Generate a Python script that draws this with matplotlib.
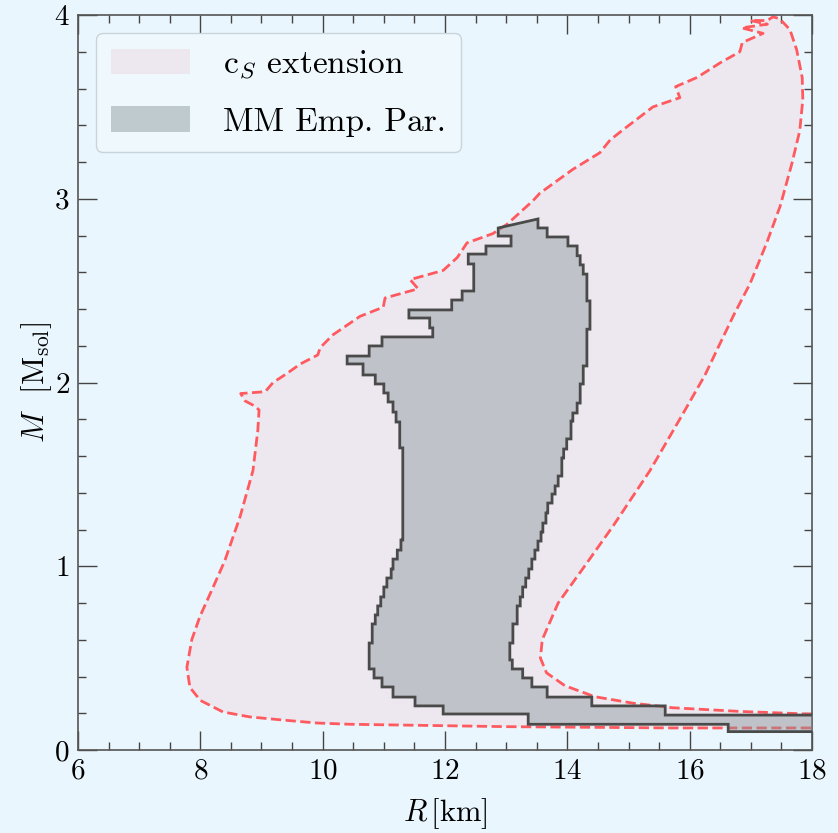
import matplotlib
matplotlib.use("Agg")
import matplotlib.pyplot as plt
from matplotlib.patches import Patch, Polygon
from matplotlib.ticker import MultipleLocator

# contorno de la región "c_S extension" (R en km, M en M_sol)
cs_R = [18.0, 16.82, 15.72, 15.07, 14.45, 13.96, 13.66, 13.56, 13.59, 13.72, 13.85,
        14.26, 14.75, 15.35, 15.89, 16.25, 16.45, 16.71, 16.99, 17.26, 17.48, 17.67,
        17.80, 17.85, 17.84, 17.75, 17.64, 17.47, 17.36, 17.27, 16.99, 17.27, 16.85,
        17.20, 16.86, 16.82, 16.50, 16.12, 15.77, 15.84, 15.40, 14.89, 14.70, 14.53,
        14.09, 13.55, 13.44, 13.01, 12.78, 12.36, 12.20, 11.97, 11.43, 11.56, 11.02,
        10.99, 10.61, 10.17, 9.96, 9.92, 9.63, 9.42, 9.19, 9.06, 8.66, 8.73, 8.90,
        8.96, 8.94, 8.86, 8.65, 8.40, 8.21, 7.99, 7.86, 7.78, 7.83, 8.00, 8.37, 8.81,
        9.35, 9.90, 10.45, 13.01, 15.73, 18.0]
cs_M = [0.195, 0.21, 0.23, 0.255, 0.29, 0.35, 0.42, 0.50, 0.60, 0.70, 0.80,
        0.99, 1.22, 1.52, 1.83, 2.04, 2.18, 2.36, 2.54, 2.76, 2.96, 3.19,
        3.37, 3.54, 3.66, 3.81, 3.92, 3.98, 3.99, 3.97, 3.97, 3.95, 3.93,
        3.90, 3.85, 3.80, 3.74, 3.66, 3.61, 3.55, 3.50, 3.37, 3.32, 3.25,
        3.16, 3.03, 2.99, 2.86, 2.81, 2.76, 2.68, 2.61, 2.56, 2.51, 2.46,
        2.41, 2.36, 2.26, 2.19, 2.15, 2.10, 2.05, 2.00, 1.95, 1.94, 1.90, 1.87,
        1.85, 1.74, 1.52, 1.27, 1.03, 0.887, 0.724, 0.60, 0.45, 0.34, 0.27, 0.207, 0.18,
        0.163, 0.147, 0.14, 0.127, 0.12, 0.12]

# región "MM Emp. Par.": borde izquierdo y derecho escalonados
izq_M = [0.10, 0.14, 0.196, 0.24, 0.288, 0.343, 0.392, 0.441, 0.582, 0.686, 0.735,
         0.784, 0.833, 0.887, 0.936, 0.985, 1.039, 1.088, 1.143, 1.644, 1.785, 1.839,
         1.894, 1.943, 1.992, 2.041, 2.101, 2.144, 2.199, 2.248, 2.297, 2.351, 2.395,
         2.449, 2.498, 2.645, 2.699, 2.743, 2.797, 2.841]
izq_R = [16.63, 13.36, 11.97, 11.51, 11.15, 10.97, 10.84, 10.76, 10.81, 10.86, 10.90,
         10.95, 11.00, 11.05, 11.12, 11.15, 11.22, 11.28, 11.31, 11.26, 11.20, 11.15,
         11.07, 11.00, 10.86, 10.66, 10.40, 10.76, 10.97, 11.80, 11.75, 11.41, 12.11,
         12.28, 12.47, 12.38, 12.67, 13.08, 12.87]
der_M = [0.10, 0.19, 0.24, 0.288, 0.343, 0.392, 0.441, 0.49, 0.582, 0.686, 0.784,
         0.833, 0.887, 0.936, 0.985, 1.039, 1.088, 1.137, 1.186, 1.235, 1.29, 1.344,
         1.393, 1.437, 1.491, 1.589, 1.638, 1.693, 1.79, 1.834, 1.888, 1.992, 2.09,
         2.29, 2.444, 2.59, 2.64, 2.69, 2.743, 2.792, 2.841, 2.89]
der_R = [18.3, 15.60, 14.40, 13.67, 13.42, 13.27, 13.10, 13.06, 13.11, 13.18, 13.23,
         13.27, 13.32, 13.37, 13.42, 13.47, 13.52, 13.57, 13.60, 13.65, 13.68, 13.75,
         13.80, 13.85, 13.91, 13.94, 13.99, 14.06, 14.09, 14.16, 14.21, 14.26, 14.32,
         14.37, 14.32, 14.26, 14.21, 14.16, 14.01, 13.67, 13.52]

etiquetas = [r'c$_S$ extension', 'MM Emp. Par.']

fondo = '#eaf6fd'
rosa = '#ede8ef'
rojo = '#ff5a5f'
gris = (0.53, 0.58, 0.60, 0.45)

plt.rcParams['font.family'] = 'serif'
plt.rcParams['font.serif'] = ['cmr10']
plt.rcParams['mathtext.fontset'] = 'cm'
plt.rcParams['axes.formatter.use_mathtext'] = True

fig = plt.figure(figsize=(8.38, 8.33), dpi=100, facecolor=fondo)
ax = fig.add_axes([78 / 838, 83 / 833, 734 / 838, 735 / 833])
ax.set_facecolor(fondo)

# región c_S con borde discontinuo
ax.fill(cs_R, cs_M, color=rosa, lw=0, zorder=1)
ax.plot(cs_R, cs_M, '--', color=rojo, lw=2.0, zorder=2)

# polígono escalonado para MM
pts = []
for i in range(len(izq_R)):
    pts += [(izq_R[i], izq_M[i]), (izq_R[i], izq_M[i + 1])]
for i in reversed(range(len(der_R))):
    pts += [(der_R[i], der_M[i + 1]), (der_R[i], der_M[i])]
ax.add_patch(Polygon(pts, closed=True, facecolor=gris, edgecolor='#4a4a4a',
                     lw=2.0, zorder=3))

ax.set_xlim(6, 18)
ax.set_ylim(0, 4)
ax.xaxis.set_major_locator(MultipleLocator(2))
ax.xaxis.set_minor_locator(MultipleLocator(0.5))
ax.yaxis.set_major_locator(MultipleLocator(1))
ax.yaxis.set_minor_locator(MultipleLocator(0.2))
ax.tick_params(which='both', direction='in', top=True, right=True, color='#444')
ax.tick_params(which='major', length=13.5, width=1.0, labelsize=21, pad=6)
ax.tick_params(which='minor', length=5.5, width=1.0)
for s in ax.spines.values():
    s.set_color('#555')
    s.set_linewidth(1.2)

ax.set_xlabel(r'$R\,$[km]', fontsize=22, labelpad=8)
ax.set_ylabel(r'$M$  [M$_{\rm sol}$]', fontsize=22, labelpad=0)

handles = [Patch(facecolor=rosa, edgecolor='none'),
           Patch(facecolor=gris, edgecolor='none')]
leg = ax.legend(handles, etiquetas, loc='upper left', fontsize=24,
                handlelength=2.35, handleheight=0.8, handletextpad=1.0,
                labelspacing=0.75, borderpad=0.45, borderaxespad=0.55,
                fancybox=True, framealpha=1, facecolor='#eef8fd',
                edgecolor='#c8d3da')

fig.savefig('out.png', dpi=100, facecolor=fondo)
